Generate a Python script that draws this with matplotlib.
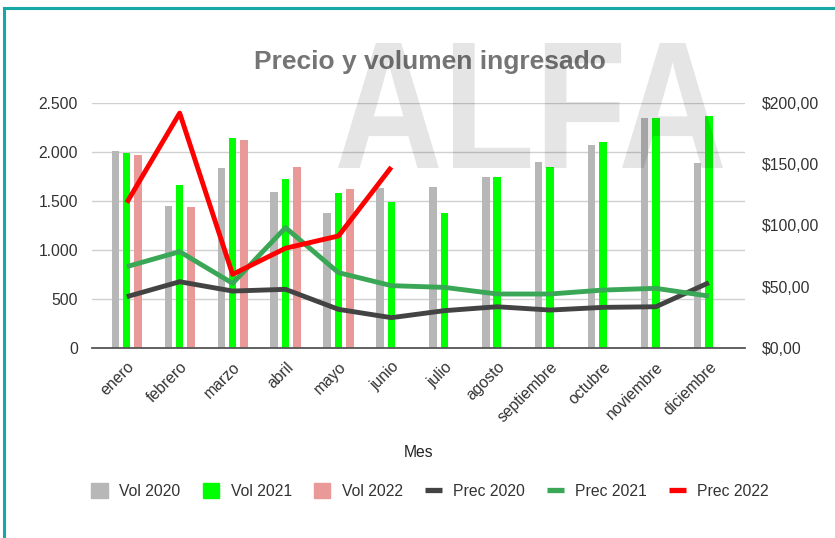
import matplotlib
matplotlib.use("Agg")
import matplotlib.pyplot as plt
import numpy as np
from matplotlib.patches import Patch, PathPatch
from matplotlib.lines import Line2D
from matplotlib.ticker import FuncFormatter
from matplotlib.textpath import TextPath
from matplotlib.font_manager import FontProperties
from matplotlib.transforms import Affine2D

plt.rcParams['font.family'] = ['Liberation Sans', 'DejaVu Sans']

# datos
meses = ["enero", "febrero", "marzo", "abril", "mayo", "junio", "julio",
         "agosto", "septiembre", "octubre", "noviembre", "diciembre"]
vol_2020 = [2010, 1452, 1833, 1595, 1374, 1636, 1646, 1748, 1901, 2068, 2343, 1884]
vol_2021 = [1986, 1663, 2139, 1721, 1578, 1493, 1381, 1748, 1844, 2099, 2343, 2360]
vol_2022 = [1969, 1442, 2122, 1844, 1626, np.nan, np.nan, np.nan, np.nan, np.nan, np.nan, np.nan]
prec_2020 = [41.9, 54.1, 46.5, 47.9, 31.6, 24.8, 30.5, 33.7, 31.0, 33.2, 33.7, 53.3]
prec_2021 = [66.4, 78.6, 52.8, 98.2, 61.5, 50.9, 49.5, 44.1, 44.1, 47.3, 48.7, 42.4]
prec_2022 = [118.6, 191.6, 60.1, 81.4, 91.4, 147.5]

fs = 11.3
fig = plt.figure(figsize=(8.35, 5.38), dpi=100)
ax = fig.add_axes([0.110, 0.353, 0.782, 0.456])
ax2 = ax.twinx()

x = np.arange(len(meses))
w = 0.14
off = 0.215
ax.bar(x - off, vol_2020, w, color="#b7b7b7", zorder=2)
ax.bar(x, vol_2021, w, color="#00ff00", zorder=2)
ax.bar(x + off, vol_2022, w, color="#ea9999", zorder=2)

ax2.plot(x, prec_2020, color="#434343", lw=3.5, solid_capstyle="butt")
ax2.plot(x, prec_2021, color="#3aa757", lw=3.5, solid_capstyle="butt")
ax2.plot(x[:len(prec_2022)], prec_2022, color="#ff0000", lw=3.5, solid_capstyle="butt")

ax.set_xlim(-0.66, 11.68)
ax.set_ylim(0, 2500)
ax2.set_ylim(0, 200)
ax.set_yticks(np.arange(0, 2501, 500))
ax2.set_yticks(np.arange(0, 201, 50))
ax.yaxis.set_major_formatter(FuncFormatter(lambda v, p: f"{int(v):,}".replace(",", ".")))
ax2.yaxis.set_major_formatter(FuncFormatter(lambda v, p: f"${v:.2f}".replace(".", ",")))

ax.set_axisbelow(True)
ax.grid(axis="y", color="#d0d0d0", lw=1)
ax.set_xticks(x)
ax.set_xticklabels(meses, rotation=45, ha="right", rotation_mode="anchor")

for a in (ax, ax2):
    for s in a.spines.values():
        s.set_visible(False)
    a.tick_params(length=0, labelsize=fs, colors="#333333")
ax2.spines["bottom"].set_visible(True)
ax2.spines["bottom"].set_color("#555555")
ax2.spines["bottom"].set_linewidth(1.3)
ax.tick_params(axis="x", pad=8)
ax.tick_params(axis="y", pad=10)
ax2.tick_params(axis="y", pad=12)

fig.text(0.501, 0.158, "Mes", ha="center", va="center", fontsize=fs, color="#222222")

fig.text(0.515, 0.885, "Precio y volumen ingresado", ha="center", va="center",
         fontsize=19, fontweight="bold", color="#757575")

handles = [Patch(color="#b7b7b7"), Patch(color="#00ff00"), Patch(color="#ea9999"),
           Line2D([], [], color="#434343", lw=3.8, solid_capstyle="butt"),
           Line2D([], [], color="#3aa757", lw=3.8, solid_capstyle="butt"),
           Line2D([], [], color="#ff0000", lw=3.8, solid_capstyle="butt")]
labels = ["Vol 2020", "Vol 2021", "Vol 2022", "Prec 2020", "Prec 2021", "Prec 2022"]
fig.legend(handles, labels, loc="center", bbox_to_anchor=(0.515, 0.087), ncol=6,
           frameon=False, fontsize=fs, handlelength=1.05, handleheight=1.05,
           handletextpad=0.75, columnspacing=1.4, labelcolor="#333333")

# marca de agua
tp = TextPath((0, 0), "ALFA", size=100, prop=FontProperties(family="Liberation Sans", weight="bold"))
bb = tp.get_extents()
trans = Affine2D().translate(-bb.x0, -bb.y0).scale(385 / bb.width, 125 / bb.height).translate(338, 370)
fig.add_artist(PathPatch(tp, transform=trans, fc="black", ec="none", alpha=0.1, zorder=10))

# borde
fig.add_artist(Line2D([0.005, 1.0], [0.985, 0.985], color="#17a7a5", lw=2.2))
fig.add_artist(Line2D([0.005, 0.005], [0.0, 0.985], color="#17a7a5", lw=2.2))

fig.savefig("out.png", dpi=100)
